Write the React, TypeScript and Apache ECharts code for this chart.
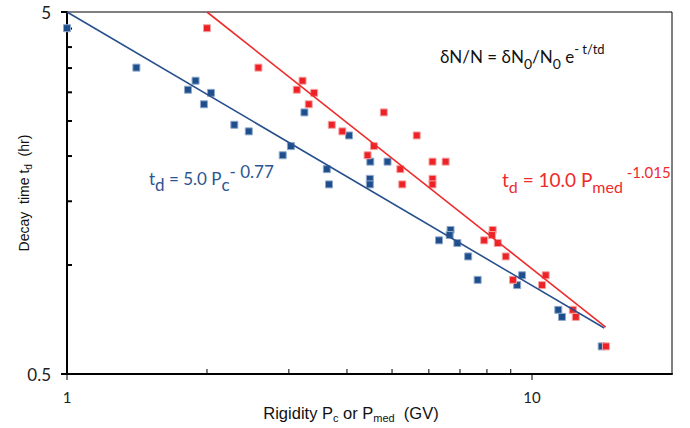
import React, { useEffect, useRef } from "react";
import * as echarts from "echarts";

// ---- data ----
const blueP = [1.0, 1.41, 1.82, 1.89, 2.04, 1.97, 2.29, 2.46, 3.03, 2.91, 3.24, 4.04, 3.62, 3.66, 4.49, 4.48, 4.48, 4.89, 6.31, 6.68, 6.65, 6.91, 7.29, 7.64, 9.52, 9.29, 11.39, 11.6, 14.12];
const redP = [2.0, 2.58, 3.21, 3.12, 3.4, 3.31, 3.71, 3.91, 4.8, 4.57, 4.43, 5.65, 6.11, 5.21, 5.26, 6.52, 6.11, 6.11, 7.89, 8.23, 8.2, 8.44, 8.78, 9.1, 10.7, 10.51, 12.24, 12.42, 14.42];
const blueT = [4.51, 3.51, 3.05, 3.23, 2.99, 2.78, 2.44, 2.34, 2.13, 2.01, 2.64, 2.28, 1.84, 1.67, 1.93, 1.73, 1.67, 1.93, 1.17, 1.25, 1.21, 1.15, 1.056, 0.91, 0.937, 0.88, 0.752, 0.719, 0.596];
const redT = [4.51, 3.51, 3.23, 3.05, 2.99, 2.78, 2.44, 2.34, 2.64, 2.13, 2.01, 2.28, 1.93, 1.84, 1.67, 1.93, 1.73, 1.67, 1.17, 1.25, 1.21, 1.15, 1.056, 0.91, 0.937, 0.88, 0.752, 0.719, 0.596];

const blueFitP = [1.0, 14.3];
const blueFitT = [5.0, 0.67];
const redFitP = [2.0, 14.4];
const redFitT = [5.0, 0.674];

const xMin = 1;
const xMax = 20;
const yMin = 0.5;
const yMax = 5;
const xMinorTicks = [2, 3, 4, 5, 6, 7, 8, 9];
const yMinorTicks = [1, 1.5, 2, 2.5, 3, 3.5, 4, 4.5];
const xTickLabels = [1, 10];
const yTickLabels = [0.5, 5];

const BLUE = "#1f4e8c";
const BLUE_EDGE = "#8fa9cc";
const RED = "#ec2227";
const RED_EDGE = "#f5a3a3";
const LABEL_FONT = "Lato, 'Noto Sans', sans-serif";
const ARIAL = "'Liberation Sans', Arial, sans-serif";

export default function App() {
  const ref = useRef<HTMLDivElement>(null);
  useEffect(() => {
    document.body.style.margin = "0";
    if (!ref.current) return;
    const chart = echarts.init(ref.current, null, { renderer: "svg" });
    const zip = (a: number[], b: number[]) => a.map((v, i) => [v, b[i]]);
    const option: any = {
      animation: false,
      backgroundColor: "#fff",
      grid: {
        left: 67,
        right: 18,
        top: 12,
        bottom: 54,
        show: true,
        borderColor: "#000",
        borderWidth: 1,
        backgroundColor: "transparent",
      },
      xAxis: {
        type: "log",
        logBase: 10,
        min: xMin,
        max: xMax,
        axisLine: { show: true, lineStyle: { color: "#000", width: 2 } },
        axisTick: { show: false },
        axisLabel: { show: false },
        splitLine: { show: false },
        minorTick: { show: false },
      },
      yAxis: {
        type: "log",
        logBase: 10,
        min: yMin,
        max: yMax,
        axisLine: { show: true, lineStyle: { color: "#000", width: 2 } },
        axisTick: { show: false },
        axisLabel: { show: false },
        splitLine: { show: false },
        minorTick: { show: false },
      },
      series: [
        {
          type: "custom",
          silent: true,
          clip: false,
          data: xMinorTicks.map((v) => [v, yMin]),
          renderItem: (params: any, api: any) => {
            const p = api.coord([api.value(0), api.value(1)]);
            return {
              type: "line",
              shape: { x1: p[0], y1: p[1], x2: p[0], y2: p[1] - 5 },
              style: { stroke: "#000", lineWidth: 1 },
            };
          },
        },
        {
          type: "custom",
          silent: true,
          clip: false,
          data: yMinorTicks.map((v) => [xMin, v]),
          renderItem: (params: any, api: any) => {
            const p = api.coord([api.value(0), api.value(1)]);
            return {
              type: "line",
              shape: { x1: p[0], y1: p[1], x2: p[0] + 5, y2: p[1] },
              style: { stroke: "#000", lineWidth: 2 },
            };
          },
        },
        {
          type: "custom",
          silent: true,
          clip: false,
          data: xTickLabels.map((v) => [v, yMin]),
          renderItem: (params: any, api: any) => {
            const v = api.value(0);
            const p = api.coord([v, api.value(1)]);
            return {
              type: "group",
              children: [
                {
                  type: "line",
                  shape: { x1: p[0], y1: p[1], x2: p[0], y2: p[1] + 6 },
                  style: { stroke: "#000", lineWidth: 1 },
                },
                {
                  type: "text",
                  x: p[0],
                  y: p[1] + 23,
                  style: {
                    text: String(v),
                    fill: "#222",
                    font: `15px ${LABEL_FONT}`,
                    align: "center",
                    verticalAlign: "middle",
                  },
                },
              ],
            };
          },
        },
        {
          type: "custom",
          silent: true,
          clip: false,
          data: yTickLabels.map((v) => [xMin, v]),
          renderItem: (params: any, api: any) => {
            const v = api.value(1);
            const p = api.coord([api.value(0), v]);
            return {
              type: "group",
              children: [
                {
                  type: "line",
                  shape: { x1: p[0] - 6, y1: p[1], x2: p[0], y2: p[1] },
                  style: { stroke: "#000", lineWidth: 2 },
                },
                {
                  type: "text",
                  x: p[0] - 16,
                  y: p[1],
                  style: {
                    text: String(v),
                    fill: "#222",
                    font: `17px ${LABEL_FONT}`,
                    align: "right",
                    verticalAlign: "middle",
                  },
                },
              ],
            };
          },
        },
        {
          type: "scatter",
          data: zip(blueP, blueT),
          symbol: "rect",
          symbolSize: 7,
          itemStyle: { color: BLUE, borderColor: BLUE_EDGE, borderWidth: 1, opacity: 1 },
          z: 3,
        },
        {
          type: "scatter",
          data: zip(redP, redT),
          symbol: "rect",
          symbolSize: 7,
          itemStyle: { color: RED, borderColor: RED_EDGE, borderWidth: 1, opacity: 1 },
          z: 3,
        },
        {
          type: "line",
          data: zip(blueFitP, blueFitT),
          showSymbol: false,
          symbol: "none",
          lineStyle: { color: "#27508c", width: 1.6 },
          z: 4,
        },
        {
          type: "line",
          data: zip(redFitP, redFitT),
          showSymbol: false,
          symbol: "none",
          lineStyle: { color: "#ee2b2b", width: 1.6 },
          z: 4,
        },
      ],
      graphic: [
        {
          type: "text",
          x: 440,
          y: 42,
          style: {
            text: "{m|δN/N = δN}{sub|0}{m|/N}{sub|0}{m| e}{sup|- t/td}",
            font: `17px ${LABEL_FONT}`,
            fill: "#111",
            rich: {
              m: { fontSize: 17, lineHeight: 28, fontFamily: LABEL_FONT, fill: "#111" },
              sub: { fontSize: 14, lineHeight: 19, verticalAlign: "bottom", fontFamily: LABEL_FONT, fill: "#111" },
              sup: { fontSize: 13, lineHeight: 14, verticalAlign: "top", fontFamily: LABEL_FONT, fill: "#111" },
            },
          },
        },
        {
          type: "text",
          x: 149,
          y: 163,
          style: {
            text: "{m|t}{sub|d}{m| = 5.0 P}{sub|c}{sup|- 0.77}",
            font: `17px ${LABEL_FONT}`,
            fill: BLUE,
            rich: {
              m: { fontSize: 17, lineHeight: 30, fontFamily: LABEL_FONT, fill: "#2b5592" },
              sub: { fontSize: 17, lineHeight: 16, verticalAlign: "bottom", fontFamily: LABEL_FONT, fill: "#2b5592" },
              sup: { fontSize: 17, lineHeight: 15, verticalAlign: "top", fontFamily: LABEL_FONT, fill: "#2b5592" },
            },
          },
        },
        {
          type: "text",
          x: 502,
          y: 164,
          style: {
            text: "{m|t}{sub|d}{m| = 10.0 P}{sub|med}{sup| -1.015}",
            font: `19px ${LABEL_FONT}`,
            fill: RED,
            rich: {
              m: { fontSize: 19, lineHeight: 30, fontFamily: LABEL_FONT, fill: "#ee2b2b" },
              sub: { fontSize: 16, lineHeight: 22, verticalAlign: "bottom", fontFamily: LABEL_FONT, fill: "#ee2b2b" },
              sup: { fontSize: 15, lineHeight: 16, verticalAlign: "top", fontFamily: LABEL_FONT, fill: "#ee2b2b" },
            },
          },
        },
        {
          type: "text",
          x: 24,
          y: 193,
          rotation: Math.PI / 2,
          style: {
            text: "{a|Decay  time t}{s|d}{a|  (hr)}",
            align: "center",
            verticalAlign: "middle",
            fill: "#111",
            rich: {
              a: { fontSize: 14, lineHeight: 18, fontFamily: ARIAL, fill: "#111" },
              s: { fontSize: 10, lineHeight: 12, verticalAlign: "bottom", fontFamily: ARIAL, fill: "#111" },
            },
          },
        },
        {
          type: "text",
          x: 351,
          y: 413,
          style: {
            text: "{a|Rigidity P}{s|c}{a| or P}{s|med}{a|  (GV)}",
            align: "center",
            verticalAlign: "middle",
            fill: "#111",
            rich: {
              a: { fontSize: 16.5, lineHeight: 21, fontFamily: ARIAL, fill: "#111" },
              s: { fontSize: 11, lineHeight: 14, verticalAlign: "bottom", fontFamily: ARIAL, fill: "#111" },
            },
          },
        },
      ],
    };
    chart.setOption(option);
    return () => chart.dispose();
  }, []);
  return <div ref={ref} style={{ width: 690, height: 428 }} />;
}
